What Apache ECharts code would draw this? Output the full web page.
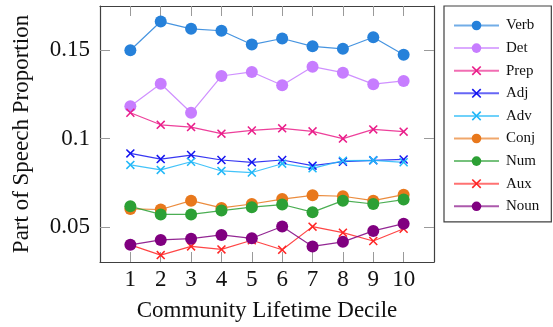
<!DOCTYPE html>
<html>
<head>
<meta charset="utf-8">
<script src="https://cdn.jsdelivr.net/npm/echarts@6/dist/echarts.min.js"></script>
<style>
html,body{margin:0;padding:0;background:#fff;}
#c{width:553px;height:327px;}
</style>
</head>
<body>
<div id="c"></div>
<script>
var deciles = [1,2,3,4,5,6,7,8,9,10];
var yTicks = [0.05, 0.1, 0.15];
var seriesNames = ['Verb','Det','Prep','Adj','Adv','Conj','Num','Aux','Noun'];
var verb = [0.1500,0.1662,0.1621,0.1610,0.1532,0.1566,0.1522,0.1508,0.1573,0.1474];
var det  = [0.1183,0.1310,0.1146,0.1354,0.1377,0.1302,0.1407,0.1373,0.1308,0.1326];
var prep = [0.1146,0.1078,0.1065,0.1028,0.1046,0.1058,0.1041,0.1000,0.1052,0.1039];
var adj  = [0.0916,0.0884,0.0907,0.0879,0.0866,0.0879,0.0847,0.0869,0.0877,0.0882];
var adv  = [0.0851,0.0823,0.0869,0.0817,0.0808,0.0858,0.0832,0.0875,0.0877,0.0866];
var conj = [0.0602,0.0599,0.0649,0.0608,0.0630,0.0658,0.0679,0.0674,0.0649,0.0683];
var num  = [0.0617,0.0571,0.0571,0.0593,0.0612,0.0627,0.0584,0.0649,0.0630,0.0655];
var aux  = [0.0399,0.0341,0.0390,0.0373,0.0425,0.0371,0.0502,0.0468,0.0421,0.0490];
var noun = [0.0399,0.0427,0.0434,0.0455,0.0436,0.0503,0.0390,0.0416,0.0478,0.0519];

var values = [verb,det,prep,adj,adv,conj,num,aux,noun];
var colors = ['#2681da','#c77dff','#ea1e8a','#1414f0','#22b8f8','#e8781c','#2ca035','#ff2626','#800080'];
var marks = ['circle','circle','cross','cross','cross','circle','circle','cross','circle'];
var crossPath = 'path://M0,1.2L1.2,0L5,3.8L8.8,0L10,1.2L6.2,5L10,8.8L8.8,10L5,6.2L1.2,10L0,8.8L3.8,5Z';

var font = 'Liberation Serif, Times New Roman, serif';
var series = seriesNames.map(function(n,i){
  var isC = marks[i]==='circle';
  return {
    name:n, type:'line',
    data: deciles.map(function(d,j){return [d, values[i][j]];}),
    symbol: isC ? 'circle' : crossPath,
    symbolSize: isC ? 12 : 9,
    showAllSymbol:true,
    lineStyle:{color:colors[i], width:1.2, opacity:0.85},
    itemStyle:{color:colors[i]},
    animation:false
  };
});

function xAx(pos){
  return {
    type:'value', min:0, max:11, position:pos,
    axisLine:{show:true, onZero:false, lineStyle:{color:'#404040', width:1.2}},
    axisTick:{show:true, inside:true, length:10, customValues:deciles, lineStyle:{color:'#9a9a9a', width:1}},
    axisLabel:{show:pos==='bottom', customValues:deciles, color:'#111', fontFamily:font, fontSize:23, margin:6},
    splitLine:{show:false}
  };
}
function yAx(pos){
  return {
    type:'value', min:0.0302, max:0.175, position:pos,
    axisLine:{show:true, onZero:false, lineStyle:{color:'#404040', width:1.2}},
    axisTick:{show:true, inside:true, length:10, customValues:yTicks, lineStyle:{color:'#9a9a9a', width:1}},
    axisLabel:{show:pos==='left', customValues:yTicks, color:'#111', fontFamily:font, fontSize:23, margin:10,
      formatter:function(v){return String(Math.round(v*100)/100);}},
    splitLine:{show:false}
  };
}
var xa = xAx('bottom');
xa.name = 'Community Lifetime Decile';
xa.nameLocation = 'middle';
xa.nameGap = 37;
xa.nameTextStyle = {color:'#111', fontFamily:font, fontSize:23};
var ya = yAx('left');
ya.name = 'Part of Speech Proportion';
ya.nameLocation = 'middle';
ya.nameGap = 67;
ya.nameTextStyle = {color:'#111', fontFamily:font, fontSize:23};

var chart = echarts.init(document.getElementById('c'), null, {renderer:'canvas'});
chart.setOption({
  animation:false,
  color:colors,
  grid:{left:100, right:119, top:6, bottom:62, containLabel:false},
  xAxis:[xa, xAx('top')],
  yAxis:[ya, yAx('right')],
  legend:{
    orient:'vertical', left:444, top:6, height:300,
    backgroundColor:'#fff', borderColor:'#404040', borderWidth:1.2, borderRadius:0,
    padding:[12,12,8,9], itemGap:7.6, itemWidth:45, itemHeight:12,
    textStyle:{color:'#111', fontFamily:font, fontSize:15, lineHeight:12, padding:[0,0,0,2]},
    lineStyle:{width:2, opacity:0.65},
    data:seriesNames
  },
  series:series
});
</script>
</body>
</html>
